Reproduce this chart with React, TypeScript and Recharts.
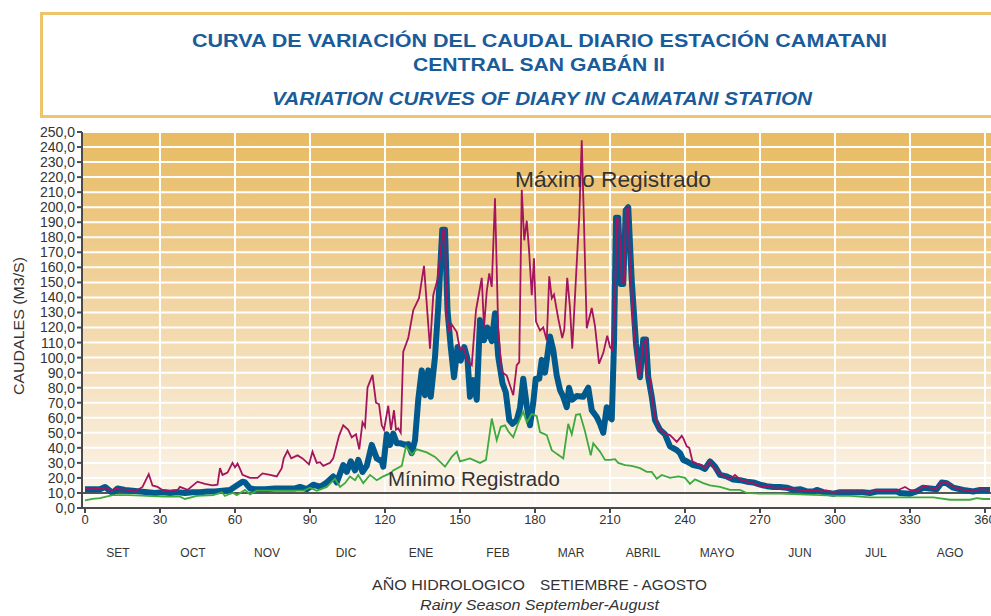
import React from "react";
import { LineChart, Line, XAxis, YAxis, CartesianGrid, ReferenceLine } from "recharts";

// Máximo registrado (día hidrológico, m3/s)
const diasMax = [0, 3, 6, 9, 10.5, 12, 14, 17, 20, 23, 25.5, 27, 29, 31, 34, 37, 38, 41, 45, 48, 51, 53, 54, 55, 57, 59, 60, 61, 62, 63, 66, 69, 71, 74, 76.7, 78.7, 79.5, 81, 82.5, 85, 87, 89.6, 91, 92.7, 94, 95.3, 98, 99.3, 101.6, 103.3, 105.3, 106.7, 108.4, 109.7, 111, 112, 113, 115, 116.4, 117.6, 118.7, 119.6, 121.3, 122.4, 123.6, 124.4, 125.3, 126.3, 127.3, 129.3, 131.3, 133.6, 135.6, 138, 139.3, 141, 142.4, 143.3, 144, 144.7, 145.6, 146.7, 148.7, 150, 151.3, 153, 154.7, 156.4, 158.7, 159.6, 160.7, 161.7, 162.7, 164, 165.3, 166.7, 168.7, 171.3, 172.7, 173.7, 174.7, 175.7, 176.7, 177.6, 178.7, 179.6, 180.4, 182, 183.3, 184.7, 185.7, 186.7, 187.6, 189.3, 190.9, 191.7, 192.9, 194, 194.9, 196.7, 197.7, 198.7, 199.6, 200.7, 202.7, 204, 205.6, 207.3, 208.9, 210, 211, 212, 212.7, 213.7, 214.7, 215.6, 216.4, 217.3, 218, 219.3, 220.7, 221.7, 223.3, 224.3, 224.9, 226, 226.7, 228, 230, 232, 234, 236.7, 238.7, 239.3, 240.7, 241.7, 243, 244.7, 246.7, 248, 250, 251.3, 253.3, 255.3, 258, 260, 262, 264.7, 267.3, 270, 272.7, 275.3, 278, 280.7, 283.3, 286, 288.7, 291.3, 292.7, 294, 296.7, 299.3, 302, 306, 311, 314, 316.7, 320.7, 324.7, 328, 330, 332.7, 335.3, 338, 340.7, 342.7, 344.7, 347.3, 351.3, 355.3, 358, 362];
const caudalMax = [13, 12.5, 13, 13.5, 11, 13, 12.5, 12, 11, 14, 22.5, 15, 14, 12, 11.5, 12, 14, 12, 17.5, 16, 15, 15.5, 26.5, 22, 23.5, 30, 27, 29.5, 26, 22, 20, 20, 23, 22, 21, 26.5, 33, 38, 33, 35, 33, 29, 37.5, 30, 30.5, 28, 30, 33, 48, 55, 52, 47, 49, 39, 57, 54, 80, 88.5, 70, 69, 55, 52, 68, 52, 65, 52, 53, 50, 104, 113, 131.5, 139.5, 161, 106, 141.5, 152, 173.5, 185, 185, 129.5, 117, 122, 117, 105, 107, 98, 95, 131.5, 153, 120, 144, 156, 147, 206, 118, 90.5, 88, 75, 95, 97, 211.5, 178, 191, 172, 141.5, 166, 124, 118, 120, 111.5, 154, 139.5, 142, 126, 113, 118.5, 153, 133, 106, 163, 193.5, 244.5, 189, 119.5, 133, 121, 96, 103, 114.5, 107, 105, 140, 193.5, 190, 150, 150, 198, 199.5, 163, 123, 100.5, 87, 109.5, 112, 88, 86, 74, 60.5, 52, 49.5, 48.5, 44, 48, 46.5, 41, 40, 31, 29.5, 28.5, 26.5, 31, 27.5, 24, 21.5, 19, 22, 19, 17.5, 16.5, 14.5, 14.5, 13.5, 13.5, 13, 12.5, 12, 11.5, 11.5, 12, 11, 11.5, 10.5, 11, 11, 11, 10.5, 11.5, 11.5, 11.5, 14, 12, 11, 14.5, 13.5, 13, 17.5, 17, 14, 12, 11, 12.5, 12];

// Caudal medio
const diasMedio = [0, 3, 6, 8, 11, 13, 16, 19, 22, 25, 28, 31, 34, 37, 40, 43, 46, 49, 52, 55, 58, 60.7, 63, 64, 66, 68, 72, 76, 80, 84, 86, 88.7, 91.3, 94, 96.7, 99.3, 100.7, 103.3, 104.7, 106.3, 108, 109.3, 111, 112.7, 114.7, 116.7, 118.7, 119.3, 120.7, 122, 123.3, 124.7, 126.3, 128, 129.3, 130.7, 132, 133.3, 134.7, 136, 137.3, 138.3, 140, 141.3, 142.9, 144, 145, 146.3, 147.6, 149, 150.3, 151.7, 153, 154, 155.3, 156.7, 158, 159.6, 160.9, 162.7, 164, 165.3, 167, 168.3, 169.7, 171, 172.7, 174, 175.3, 176.7, 178, 179.3, 180.3, 181.7, 182.7, 184, 186, 187.3, 188.7, 190, 191.3, 192.7, 193.6, 194.9, 196.7, 199.3, 201.3, 202.7, 204.7, 206, 207.3, 208.7, 210, 210.7, 211.6, 212.4, 213.3, 214.3, 215.3, 216.3, 217.3, 218.7, 220.4, 222, 223.3, 224.4, 225.3, 226.7, 228, 230, 232, 234, 236.7, 238, 239.3, 240.7, 243.3, 246, 248, 250, 252, 254, 256.7, 259.3, 262, 264.7, 267.3, 270, 272.7, 275.3, 278, 280.7, 283.3, 286, 288.7, 291.3, 292.7, 295.3, 299.3, 302, 306, 311, 314, 316.7, 320.7, 324.7, 326, 330, 332.7, 335.3, 338, 340.7, 342.7, 344.7, 347.3, 351.3, 355.3, 358, 362];
const caudalMedio = [12.5, 12.5, 12.5, 14, 10, 13, 12, 11.5, 11, 10.5, 10, 10.5, 10, 10.5, 10, 10.5, 10.5, 11, 11, 11.5, 12, 15, 17.5, 17, 13, 12.5, 12.5, 13, 13, 13, 14, 12.5, 15.5, 14, 17, 21, 17, 28.5, 24, 31, 25, 32, 24, 28, 42, 33, 31, 27.5, 49, 42, 49.5, 43, 43, 42, 42.5, 36.5, 45, 72, 91.5, 75, 91.5, 74, 100.5, 134, 185, 185, 131.5, 107, 87, 107, 98, 107, 99, 74, 85, 72, 125, 111.5, 120, 111, 129.5, 100.5, 83, 77, 58.5, 56, 58.5, 66.5, 86, 68, 55, 70, 86, 86, 98.5, 90, 114, 105, 88, 78.5, 74, 67, 80, 72, 74.5, 74, 80, 65, 60.5, 56, 50, 67, 60, 59, 109.5, 193, 193, 149, 149, 198, 200, 151, 109, 87, 112, 112, 87, 74, 58.5, 52, 49, 41, 38.5, 36.5, 32, 31, 28.5, 27.5, 26, 31, 27.5, 22, 21, 19, 18.5, 17.5, 17, 15.5, 14.5, 14, 14, 13.5, 12, 12.5, 11, 11, 12, 10.5, 9.5, 10.5, 10.5, 10.5, 10, 11, 11, 11, 10, 9.5, 11, 13.5, 13, 12.5, 17, 16.5, 13.5, 12, 11, 12, 12];

// Mínimo registrado
const diasMin = [0, 3, 6, 11, 18, 24.7, 31.3, 38, 40, 44.7, 51.3, 54.7, 56, 57.3, 59.3, 60.7, 64, 66, 68.7, 74, 80, 84.7, 87.3, 90, 92.7, 96.7, 100, 102, 104, 106, 108, 109.3, 111.3, 114, 116.7, 119.3, 122, 123.3, 126.7, 128.4, 130.7, 132.7, 136.7, 140, 144, 146.7, 148.7, 150, 154, 158, 160.4, 162.7, 164.7, 166.3, 168, 169.3, 171.3, 173.3, 175.3, 176.7, 178.7, 180.7, 182, 184.7, 186.7, 188.7, 191.3, 193.3, 194.7, 196.4, 198, 200, 202.3, 203.3, 206, 208, 210, 212, 213.3, 216, 218.7, 222, 224.7, 226.7, 228.7, 230.7, 234, 237.3, 240, 242, 244, 247.3, 250, 254, 258, 262, 264.7, 270, 278, 286, 294, 302, 306, 314, 330, 339.3, 346, 354, 356.7, 359.3, 362];
const caudalMin = [5, 6, 6.5, 8.5, 8.5, 8, 7.5, 7.5, 6, 8, 8.5, 10.5, 8, 9, 10, 8.5, 12, 9, 11.5, 11.5, 11.5, 11.5, 11.5, 13.5, 11.5, 14, 19.5, 14, 16.5, 21, 18.5, 22, 16.5, 22, 18.5, 21, 23, 25, 28, 41, 35.5, 39, 37, 34, 27.5, 34, 37.5, 31, 33, 30, 32, 59.5, 45, 54, 55, 51, 47, 56.5, 64, 57, 62.5, 61, 50.5, 48.5, 38.5, 36, 33, 56, 49, 62, 62.5, 51, 35, 43, 37.5, 32, 32, 32.5, 30, 28.5, 28, 26.5, 24, 24, 19.5, 22, 20, 21, 20, 16, 19, 16.5, 15, 14, 12, 12, 10, 9.5, 9.5, 9, 8.5, 8, 8, 7, 7, 7, 5.5, 5.5, 6.5, 6, 6];

const ticksX = [0, 30, 60, 90, 120, 150, 180, 210, 240, 270, 300, 330, 360];
const ticksY = [0, 10, 20, 30, 40, 50, 60, 70, 80, 90, 100, 110, 120, 130, 140, 150, 160, 170, 180, 190, 200, 210, 220, 230, 240, 250];
const meses = ["SET", "OCT", "NOV", "DIC", "ENE", "FEB", "MAR", "ABRIL", "MAYO", "JUN", "JUL", "AGO"];
const posMeses = [13.2, 43.2, 72.8, 104.4, 134.4, 165.2, 194.4, 223.2, 252.8, 286, 316.4, 346];

const toData = (dias: number[], q: number[]) => dias.map((d, i) => ({ dia: d, q: q[i] }));

const fmtY = (v: number) => v.toFixed(1).replace(".", ",");
const fmtMes = (v: number) => meses[posMeses.indexOf(v)] ?? "";

const AZUL = "#1A5C9A";

export default function App() {
  return (
    <div style={{ position: "absolute", left: 0, top: 0, width: 991, height: 616, background: "#fff", fontFamily: "'Liberation Sans', Arial, sans-serif", overflow: "hidden" }}>
      <LineChart width={991} height={616} margin={{ top: 132, right: 0, bottom: 38, left: 12 }}>
        <defs>
          <linearGradient id="fondo" x1="0" y1="0" x2="0" y2="1">
            <stop offset="0%" stopColor="#E8BB62" />
            <stop offset="30%" stopColor="#EECB8B" />
            <stop offset="60%" stopColor="#F4DEB8" />
            <stop offset="85%" stopColor="#F9EDDA" />
            <stop offset="95.8%" stopColor="#FBF3E7" />
            <stop offset="96.2%" stopColor="#FEFBF6" />
            <stop offset="100%" stopColor="#FEFBF6" />
          </linearGradient>
        </defs>
        <CartesianGrid stroke="#FFFFFF" strokeWidth={2} fill="url(#fondo)" fillOpacity={1} verticalValues={ticksX.slice(1)} />
        <XAxis dataKey="dia" type="number" domain={[-1.2, 362.4]} allowDataOverflow ticks={ticksX} interval={0}
          stroke="#4A4A4A" strokeWidth={2} tickSize={5} height={30} tick={{ fontSize: 13, fill: "#333" }} />
        <XAxis xAxisId="mes" dataKey="dia" type="number" domain={[-1.2, 362.4]} allowDataOverflow ticks={posMeses} interval={0}
          tickFormatter={fmtMes} axisLine={false} tickLine={false} tickSize={8} height={40} tick={{ fontSize: 12, fill: "#333" }} />
        <YAxis type="number" domain={[0, 250]} ticks={ticksY} interval={0} tickFormatter={fmtY} width={70}
          stroke="#4A4A4A" strokeWidth={2} tickSize={5} tick={{ fontSize: 14, fill: "#333" }} />
        <ReferenceLine y={10} stroke="#555" strokeWidth={2} />
        <Line data={toData(diasMedio, caudalMedio)} dataKey="q" name="Medio" type="linear" stroke="#005A8E" strokeWidth={6} strokeLinejoin="round" dot={false} isAnimationActive={false} />
        <Line data={toData(diasMin, caudalMin)} dataKey="q" name="Mínimo" type="linear" stroke="#3DAA3D" strokeWidth={1.8} dot={false} isAnimationActive={false} />
        <Line data={toData(diasMax, caudalMax)} dataKey="q" name="Máximo" type="linear" stroke="#A3155E" strokeWidth={1.8} dot={false} isAnimationActive={false} />
      </LineChart>
      <svg width={991} height={616} style={{ position: "absolute", left: 0, top: 0, pointerEvents: "none" }}>
        <rect x={41.5} y={13.5} width={1000} height={103} fill="none" stroke="#EEC46C" strokeWidth={3} />
        <text x={192} y={47} fontSize={19} fontWeight="bold" fill={AZUL} textLength={695} lengthAdjust="spacingAndGlyphs">CURVA DE VARIACIÓN DEL CAUDAL DIARIO ESTACIÓN CAMATANI</text>
        <text x={413} y={71} fontSize={19} fontWeight="bold" fill={AZUL} textLength={252} lengthAdjust="spacingAndGlyphs">CENTRAL SAN GABÁN II</text>
        <text x={272} y={105} fontSize={19} fontWeight="bold" fontStyle="italic" fill={AZUL} textLength={540} lengthAdjust="spacingAndGlyphs">VARIATION CURVES OF DIARY IN CAMATANI STATION</text>
        <text x={515} y={187} fontSize={22} fill="#333" textLength={196} lengthAdjust="spacingAndGlyphs">Máximo Registrado</text>
        <text x={388} y={486} fontSize={20} fill="#333" textLength={172} lengthAdjust="spacingAndGlyphs">Mínimo Registrado</text>
        <text transform="translate(24,326) rotate(-90)" textAnchor="middle" fontSize={15} fill="#333" textLength={138} lengthAdjust="spacingAndGlyphs">CAUDALES (M3/S)</text>
        <text x={372} y={590} fontSize={15} fill="#333" textLength={153} lengthAdjust="spacingAndGlyphs">AÑO HIDROLOGICO</text>
        <text x={540} y={590} fontSize={15} fill="#333" textLength={167} lengthAdjust="spacingAndGlyphs">SETIEMBRE - AGOSTO</text>
        <text x={420} y={610} fontSize={14} fontStyle="italic" fill="#333" textLength={239} lengthAdjust="spacingAndGlyphs">Rainy Season September-August</text>
      </svg>
    </div>
  );
}
